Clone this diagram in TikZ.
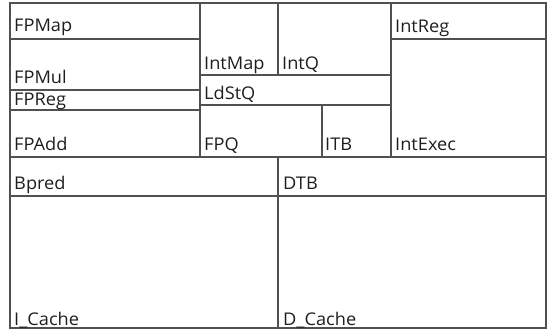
\documentclass[tikz,border=0pt]{standalone}
\usepackage{fontspec}
\setmainfont{Open Sans}
\definecolor{edge}{RGB}{80,80,80}
\definecolor{ink}{RGB}{30,30,30}
\tikzset{
  cellbox/.style={draw=edge, line width=1.3pt},
  lbl/.style={anchor=base west, inner sep=0pt, text=ink, font=\fontsize{17.5}{19}\selectfont, xscale=1.04, transform shape}
}
\begin{document}
\begin{tikzpicture}[x=1pt, y=-1pt]
\useasboundingbox (0,0) rectangle (548,331);
% cells
\draw[cellbox] (10,3) rectangle (200,39);
\draw[cellbox] (10,39) rectangle (200,90);
\draw[cellbox] (10,90) rectangle (200,110);
\draw[cellbox] (10,110) rectangle (200,157);
\draw[cellbox] (200,3) rectangle (278,75);
\draw[cellbox] (278,3) rectangle (391,75);
\draw[cellbox] (200,75) rectangle (391,105);
\draw[cellbox] (200,105) rectangle (322,157);
\draw[cellbox] (322,105) rectangle (391,157);
\draw[cellbox] (391,3) rectangle (546,39);
\draw[cellbox] (391,39) rectangle (546,157);
\draw[cellbox] (10,157) rectangle (278,196);
\draw[cellbox] (278,157) rectangle (546,196);
\draw[cellbox] (10,196) rectangle (278,328);
\draw[cellbox] (278,196) rectangle (546,328);
% labels
\node[lbl] (fpmap) at (14,32) {FPMap};
\node[lbl] (fpmul) at (14,84) {FPMul};
\node[lbl] (fpreg) at (14,106) {FPReg};
\node[lbl] (fpadd) at (14,150) {FPAdd};
\node[lbl] (intmap) at (204,70) {IntMap};
\node[lbl] (intq) at (282,70) {IntQ};
\node[lbl] (ldstq) at (204,100) {LdStQ};
\node[lbl] (fpq) at (204,151) {FPQ};
\node[lbl] (itb) at (325,151) {ITB};
\node[lbl] (intreg) at (395,33) {IntReg};
\node[lbl] (intexec) at (395,151) {IntExec};
\node[lbl] (bpred) at (14,189) {Bpred};
\node[lbl] (dtb) at (283,189) {DTB};
\node[lbl] (icache) at (14,325) {I\_Cache};
\node[lbl] (dcache) at (283,325) {D\_Cache};
\end{tikzpicture}
\end{document}
